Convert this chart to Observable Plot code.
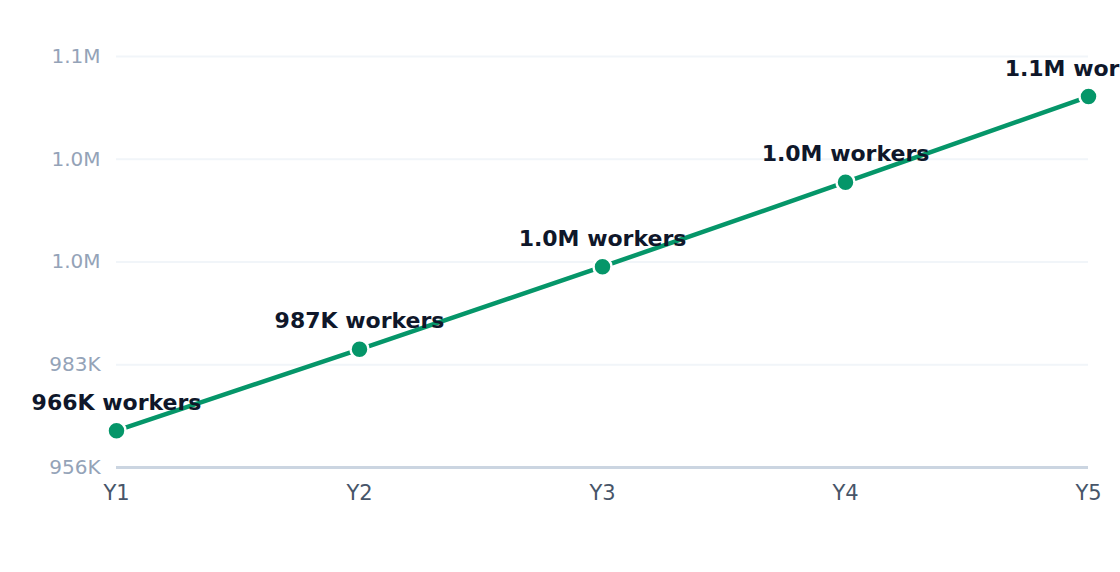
<!DOCTYPE html>
<html>
<head>
<meta charset="utf-8">
<script src="https://cdn.jsdelivr.net/npm/d3@7"></script>
<script src="https://cdn.jsdelivr.net/npm/@observablehq/plot@0.6"></script>
<style>
  html, body { margin: 0; padding: 0; background: #ffffff; overflow: hidden; }
  #chart { width: 1120px; height: 572px; }
  #chart svg { overflow: visible; }
</style>
</head>
<body>
<div id="chart"></div>
<script>
const years = ["Y1", "Y2", "Y3", "Y4", "Y5"];
const workers = [966000, 987400, 1009100, 1031300, 1053800];

const fmt = v => v >= 1e6 ? (v / 1e6).toFixed(1) + "M" : Math.round(v / 1e3) + "K";

const data = years.map((y, i) => ({year: y, value: workers[i]}));
const yMin = d3.min(workers) * 0.99;
const yMax = d3.max(workers) * 1.01;
const yTicks = d3.range(5).map(i => yMin + (yMax - yMin) * i / 4);

const chart = Plot.plot({
  width: 1120,
  height: 572,
  marginTop: 56,
  marginBottom: 105,
  marginLeft: 116,
  marginRight: 32,
  style: {fontFamily: "DejaVu Sans, sans-serif", background: "#ffffff", overflow: "visible"},
  x: {type: "point", domain: years, padding: 0, label: null},
  y: {domain: [yMin, yMax], label: null},
  marks: [
    Plot.gridY(yTicks, {stroke: "#f1f5f9", strokeOpacity: 1, strokeWidth: 2}),
    Plot.ruleY([yMin], {stroke: "#cbd5e1", strokeWidth: 3}),
    Plot.axisY(yTicks, {tickSize: 0, tickPadding: 16, tickFormat: fmt, fontSize: 20, fill: "#94a3b8", label: null}),
    Plot.axisX({tickSize: 0, tickPadding: 18, fontSize: 21, fill: "#475569", label: null}),
    Plot.line(data, {x: "year", y: "value", stroke: "#059669", strokeWidth: 4.5}),
    Plot.dot(data, {x: "year", y: "value", r: 9, fill: "#059669", stroke: "#ffffff", strokeWidth: 2.5}),
    Plot.text(data, {x: "year", y: "value", text: d => fmt(d.value) + " workers", lineAnchor: "bottom", dy: -21, fontSize: 22, fontWeight: "bold", fill: "#0f172a"})
  ]
});
document.getElementById("chart").appendChild(chart);
</script>
</body>
</html>
